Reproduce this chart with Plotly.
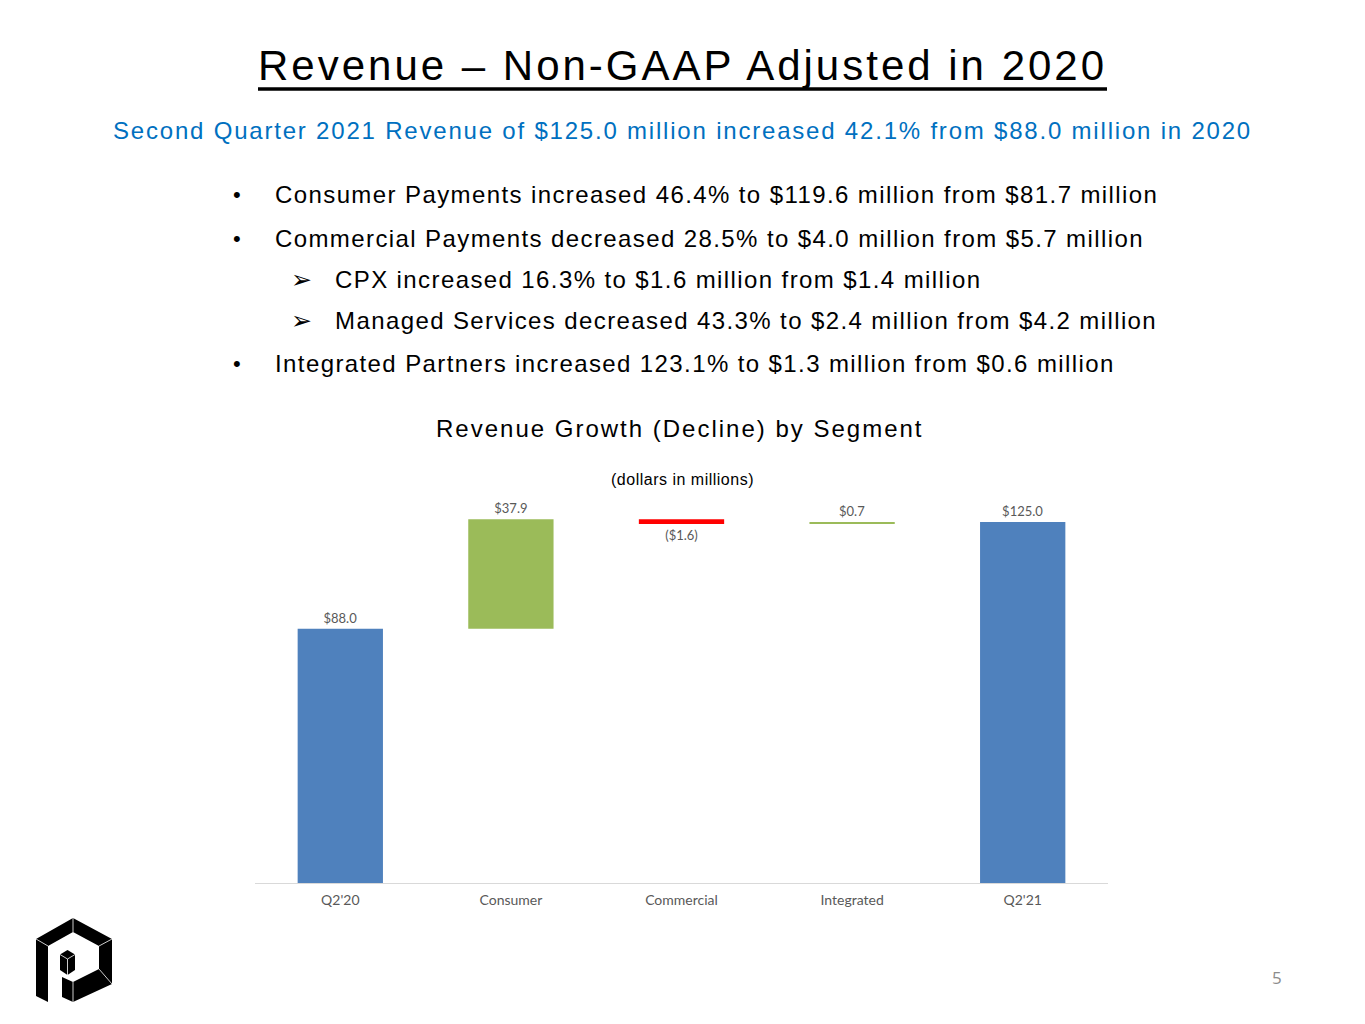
import base64
import plotly.graph_objects as go

# waterfall data (dollars in millions)
categories = ["Q2'20", "Consumer", "Commercial", "Integrated", "Q2'21"]
measures = ["absolute", "relative", "relative", "relative", "total"]
values = [88.0, 37.9, -1.6, 0.7, 0]
labels = ["$88.0", "$37.9", "($1.6)", "$0.7", "$125.0"]

bullets = [
    ("•", "Consumer Payments increased 46.4% to $119.6 million from $81.7 million"),
    ("•", "Commercial Payments decreased 28.5% to $4.0 million from $5.7 million"),
    ("➢", "CPX increased 16.3% to $1.6 million from $1.4 million"),
    ("➢", "Managed Services decreased 43.3% to $2.4 million from $4.2 million"),
    ("•", "Integrated Partners increased 123.1% to $1.3 million from $0.6 million"),
]
bullet_y = [194, 238, 279, 320, 363]

BLUE = "#4F81BD"
GREEN = "#9BBB59"
RED = "#FF0000"
GRAY = "#595959"
ARIAL = "Liberation Sans, Arial, sans-serif"
CALIBRI = "Lato, Open Sans, sans-serif"

# plot area in page pixels (page body adds an 8px margin)
OFF = 8
L, R, T, B = 255, 1108, 493, 883
W, H = 1365 - OFF, 1024 - OFF
YMAX = 135


def px(x):
    return (x - L) / (R - L)


def py(y):
    return (B - y) / (B - T)


def spaced(s, sp):
    return f'<span style="letter-spacing:{sp}px">{s}</span>'


fig = go.Figure(
    go.Waterfall(
        x=categories,
        y=values,
        measure=measures,
        text=labels,
        textposition="outside",
        textfont=dict(family=CALIBRI, size=13, color=GRAY),
        increasing=dict(marker=dict(color=GREEN)),
        decreasing=dict(marker=dict(color=RED)),
        totals=dict(marker=dict(color=BLUE)),
        connector=dict(visible=False),
        cliponaxis=False,
        hoverinfo="skip",
    )
)

ann = []


def add_text(x, y, s, size, color="black", xanchor="center", family=ARIAL):
    ann.append(dict(
        x=px(x), y=py(y), xref="paper", yref="paper", text=s, showarrow=False,
        xanchor=xanchor, yanchor="middle", borderpad=0,
        font=dict(family=family, size=size, color=color),
    ))


add_text(682, 66, spaced("Revenue – Non-GAAP Adjusted in 2020", 3), 42)
add_text(682, 130, spaced("Second Quarter 2021 Revenue of $125.0 million increased 42.1% "
                          "from $88.0 million in 2020", 1.8), 24, color="#0070C0")
for (mark, line), y in zip(bullets, bullet_y):
    if mark == "•":
        add_text(237, y, mark, 22)
        add_text(274, y, spaced(line, 1.4), 24, xanchor="left")
    else:
        add_text(301, y, mark, 25, family="DejaVu Sans, sans-serif")
        add_text(334, y, spaced(line, 1.4), 24, xanchor="left")
add_text(680, 428, spaced("Revenue Growth (Decline) by Segment", 2), 24)
add_text(682, 480, spaced("(dollars in millions)", 0.5), 16)
add_text(1277, 977, "5", 17, color="#8C8C8C", family="Open Sans, sans-serif")

# title underline
shapes = [dict(type="line", xref="paper", yref="paper",
               x0=px(258), x1=px(1107), y0=py(89), y1=py(89),
               line=dict(color="black", width=3.5))]

# company logo
svg = """<svg xmlns='http://www.w3.org/2000/svg' viewBox='30 912 90 95' width='90' height='95'>
<polygon fill='black' points='36,939 73,918 112,939 112,984 73,1002 62,997 62,977 73,982 99,969 99,946 73,932 48,946 48,1002 36,996'/>
<polygon fill='black' points='67.5,950 75,954.5 75,970 67.5,975 60,970 60,954.5'/>
<polyline fill='none' stroke='white' stroke-width='0.8' points='60,954.5 67.5,959 75,954.5'/>
<line stroke='white' stroke-width='0.8' x1='67.5' y1='959' x2='67.5' y2='975'/>
<line stroke='white' stroke-width='0.8' x1='48' y1='946' x2='36' y2='939'/>
<line stroke='white' stroke-width='0.8' x1='99' y1='946' x2='112' y2='939'/>
<line stroke='white' stroke-width='0.8' x1='73' y1='932' x2='73' y2='918'/>
<line stroke='white' stroke-width='0.8' x1='99' y1='969' x2='112' y2='984'/>
<line stroke='white' stroke-width='0.8' x1='73' y1='982' x2='73' y2='1002'/>
</svg>"""
logo = "data:image/svg+xml;base64," + base64.b64encode(svg.encode()).decode()

fig.update_layout(
    width=W,
    height=H,
    margin=dict(l=L - OFF, r=W - (R - OFF), t=T - OFF, b=H - (B - OFF), pad=0),
    paper_bgcolor="white",
    plot_bgcolor="white",
    showlegend=False,
    waterfallgap=0.5,
    annotations=ann,
    shapes=shapes,
    images=[dict(source=logo, xref="paper", yref="paper",
                 x=px(30), y=py(912), sizex=px(120) - px(30), sizey=py(912) - py(1007),
                 xanchor="left", yanchor="top", sizing="stretch", layer="above")],
    xaxis=dict(
        showgrid=False, showline=True, linecolor="#D9D9D9", linewidth=1,
        ticks="", ticklabelstandoff=4,
        tickfont=dict(family=CALIBRI, size=14, color=GRAY),
        fixedrange=True,
    ),
    yaxis=dict(
        range=[0, YMAX], visible=False, showgrid=False, zeroline=False, fixedrange=True,
    ),
)

fig.write_html("out.html")
